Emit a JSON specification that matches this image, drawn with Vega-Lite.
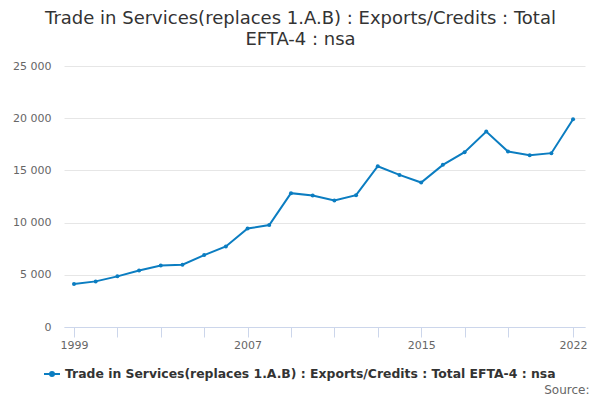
{
  "$schema": "https://vega.github.io/schema/vega-lite/v6.json",
  "width": 521,
  "height": 261,
  "autosize": "none",
  "padding": {"left": 64, "top": 66, "right": 15, "bottom": 73},
  "background": "white",
  "title": {
    "text": ["Trade in Services(replaces 1.A.B) : Exports/Credits : Total", "EFTA-4 : nsa"],
    "frame": "group",
    "anchor": "middle",
    "dx": -24,
    "offset": 11,
    "font": "DejaVu Sans",
    "fontSize": 18,
    "fontWeight": "normal",
    "lineHeight": 21,
    "color": "#333333"
  },
  "config": {
    "view": {"stroke": null},
    "font": "DejaVu Sans"
  },
  "data": {
    "values": [
      {"year": 1999, "value": 4110, "series": "Trade in Services(replaces 1.A.B) : Exports/Credits : Total EFTA-4 : nsa"},
      {"year": 2000, "value": 4370, "series": "Trade in Services(replaces 1.A.B) : Exports/Credits : Total EFTA-4 : nsa"},
      {"year": 2001, "value": 4850, "series": "Trade in Services(replaces 1.A.B) : Exports/Credits : Total EFTA-4 : nsa"},
      {"year": 2002, "value": 5420, "series": "Trade in Services(replaces 1.A.B) : Exports/Credits : Total EFTA-4 : nsa"},
      {"year": 2003, "value": 5900, "series": "Trade in Services(replaces 1.A.B) : Exports/Credits : Total EFTA-4 : nsa"},
      {"year": 2004, "value": 5960, "series": "Trade in Services(replaces 1.A.B) : Exports/Credits : Total EFTA-4 : nsa"},
      {"year": 2005, "value": 6890, "series": "Trade in Services(replaces 1.A.B) : Exports/Credits : Total EFTA-4 : nsa"},
      {"year": 2006, "value": 7720, "series": "Trade in Services(replaces 1.A.B) : Exports/Credits : Total EFTA-4 : nsa"},
      {"year": 2007, "value": 9440, "series": "Trade in Services(replaces 1.A.B) : Exports/Credits : Total EFTA-4 : nsa"},
      {"year": 2008, "value": 9760, "series": "Trade in Services(replaces 1.A.B) : Exports/Credits : Total EFTA-4 : nsa"},
      {"year": 2009, "value": 12820, "series": "Trade in Services(replaces 1.A.B) : Exports/Credits : Total EFTA-4 : nsa"},
      {"year": 2010, "value": 12600, "series": "Trade in Services(replaces 1.A.B) : Exports/Credits : Total EFTA-4 : nsa"},
      {"year": 2011, "value": 12120, "series": "Trade in Services(replaces 1.A.B) : Exports/Credits : Total EFTA-4 : nsa"},
      {"year": 2012, "value": 12630, "series": "Trade in Services(replaces 1.A.B) : Exports/Credits : Total EFTA-4 : nsa"},
      {"year": 2013, "value": 15400, "series": "Trade in Services(replaces 1.A.B) : Exports/Credits : Total EFTA-4 : nsa"},
      {"year": 2014, "value": 14570, "series": "Trade in Services(replaces 1.A.B) : Exports/Credits : Total EFTA-4 : nsa"},
      {"year": 2015, "value": 13840, "series": "Trade in Services(replaces 1.A.B) : Exports/Credits : Total EFTA-4 : nsa"},
      {"year": 2016, "value": 15530, "series": "Trade in Services(replaces 1.A.B) : Exports/Credits : Total EFTA-4 : nsa"},
      {"year": 2017, "value": 16740, "series": "Trade in Services(replaces 1.A.B) : Exports/Credits : Total EFTA-4 : nsa"},
      {"year": 2018, "value": 18720, "series": "Trade in Services(replaces 1.A.B) : Exports/Credits : Total EFTA-4 : nsa"},
      {"year": 2019, "value": 16810, "series": "Trade in Services(replaces 1.A.B) : Exports/Credits : Total EFTA-4 : nsa"},
      {"year": 2020, "value": 16450, "series": "Trade in Services(replaces 1.A.B) : Exports/Credits : Total EFTA-4 : nsa"},
      {"year": 2021, "value": 16650, "series": "Trade in Services(replaces 1.A.B) : Exports/Credits : Total EFTA-4 : nsa"},
      {"year": 2022, "value": 19900, "series": "Trade in Services(replaces 1.A.B) : Exports/Credits : Total EFTA-4 : nsa"}
    ]
  },
  "mark": {
    "type": "line",
    "strokeWidth": 2,
    "point": {"filled": true, "size": 16},
    "clip": false
  },
  "encoding": {
    "x": {
      "field": "year",
      "type": "quantitative",
      "scale": {"domain": [1998.54, 2022.55], "nice": false, "zero": false},
      "axis": {
        "values": [1999, 2001, 2003, 2005, 2007, 2009, 2011, 2013, 2015, 2017, 2019, 2022],
        "labelExpr": "indexof([1999, 2007, 2015, 2022], datum.value) >= 0 ? datum.value + '' : ''",
        "grid": false,
        "domainColor": "#ccd6eb",
        "tickColor": "#ccd6eb",
        "tickSize": 10,
        "labelColor": "#666666",
        "labelFontSize": 11,
        "labelPadding": 2,
        "labelFlush": false,
        "labelOverlap": false,
        "title": "Source:",
        "titleAnchor": "end",
        "titleAlign": "right",
        "titleX": 525,
        "titleY": 62,
        "titleBaseline": "middle",
        "titleFontWeight": "normal",
        "titleFontSize": 12,
        "titleColor": "#666666"
      }
    },
    "y": {
      "field": "value",
      "type": "quantitative",
      "scale": {"domain": [0, 25000], "nice": false},
      "axis": {
        "values": [0, 5000, 10000, 15000, 20000, 25000],
        "labelExpr": "replace(format(datum.value, ','), ',', ' ')",
        "domain": false,
        "ticks": false,
        "gridColor": "#e6e6e6",
        "labelColor": "#666666",
        "labelFontSize": 11,
        "labelPadding": 13,
        "title": null
      }
    },
    "color": {
      "field": "series",
      "type": "nominal",
      "scale": {"range": ["#0b7dc1"]},
      "legend": {
        "orient": "none",
        "legendX": -21,
        "legendY": 299,
        "title": null,
        "symbolType": "M -1 0 L 1 0 M -0.25 0 A 0.25 0.25 0 1 0 0.25 0 A 0.25 0.25 0 1 0 -0.25 0",
        "symbolSize": 256,
        "symbolStrokeWidth": 2,
        "symbolFillColor": "#0b7dc1",
        "symbolStrokeColor": "#0b7dc1",
        "labelFontSize": 12.4,
        "labelFontWeight": "bold",
        "labelColor": "#333333",
        "labelLimit": 600,
        "labelOffset": 4
      }
    }
  }
}
